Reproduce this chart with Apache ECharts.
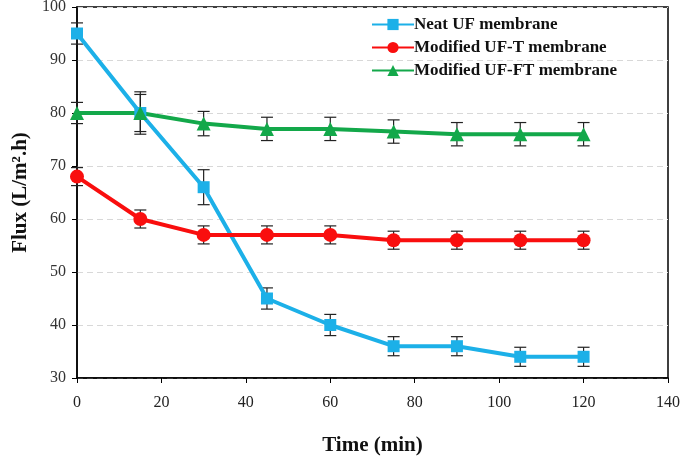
<!DOCTYPE html>
<html><head><meta charset="utf-8">
<script src="https://cdn.jsdelivr.net/npm/echarts@6/dist/echarts.min.js"></script>
<style>html,body{margin:0;padding:0;background:#fff}#c{width:685px;height:460px}</style>
</head><body><div id="c"></div>
<script>
const times = [0, 15, 30, 45, 60, 75, 90, 105, 120];
const neatUF = [95, 80, 66, 45, 40, 36, 36, 34, 34];
const neatErr = [2, 4, 3.3, 2, 2, 1.8, 1.8, 1.8, 1.8];
const modT = [68, 60, 57, 57, 57, 56, 56, 56, 56];
const modTErr = [1.7, 1.7, 1.7, 1.7, 1.7, 1.7, 1.7, 1.7, 1.7];
const modFT = [80, 80, 78, 77, 77, 76.5, 76, 76, 76];
const modFTErr = [2, 3.5, 2.3, 2.2, 2.2, 2.2, 2.2, 2.2, 2.2];
const names = ['Neat UF membrane', 'Modified UF-T membrane', 'Modified UF-FT membrane'];
const colors = ['#1CB0E8', '#F90E0E', '#13A84A'];

const chart = echarts.init(document.getElementById('c'));
const font = '"Liberation Serif", "Times New Roman", serif';

function errSeries(vals, errs) {
  return {
    type: 'custom',
    silent: true,
    z: 1,
    data: times.map((t, i) => [t, vals[i] - errs[i], vals[i] + errs[i]]),
    renderItem: function (params, api) {
      const lo = api.coord([api.value(0), api.value(1)]);
      const hi = api.coord([api.value(0), api.value(2)]);
      const w = 6;
      const st = { stroke: '#222', lineWidth: 1.2 };
      return {
        type: 'group',
        children: [
          { type: 'line', shape: { x1: lo[0], y1: lo[1], x2: hi[0], y2: hi[1] }, style: st },
          { type: 'line', shape: { x1: lo[0] - w, y1: lo[1], x2: lo[0] + w, y2: lo[1] }, style: st },
          { type: 'line', shape: { x1: hi[0] - w, y1: hi[1], x2: hi[0] + w, y2: hi[1] }, style: st }
        ]
      };
    }
  };
}

function lineSeries(name, vals, color, symbol, size) {
  return {
    name: name, type: 'line', z: 2,
    data: times.map((t, i) => [t, vals[i]]),
    symbol: symbol, symbolSize: size,
    lineStyle: { color: color, width: 4 },
    itemStyle: { color: color },
    emphasis: { disabled: true }
  };
}

chart.setOption({
  animation: false,
  grid: { left: 77, right: 17, top: 7, bottom: 82, show: true, borderColor: '#000', borderWidth: 1.5,
          containLabel: false, outerBoundsMode: 'none' },
  legend: {
    orient: 'vertical', left: 366, top: 11, itemGap: 6, itemWidth: 42, itemHeight: 14,
    data: names,
    textStyle: { fontFamily: font, fontWeight: 'bold', fontSize: 17, color: '#111', padding: [0, 0, 0, -5] }
  },
  xAxis: {
    type: 'value', min: 0, max: 140, interval: 20,
    axisLine: { show: true, lineStyle: { color: '#000', width: 1.5 } },
    axisTick: { show: true, length: 5, lineStyle: { color: '#000' } },
    splitLine: { show: false },
    axisLabel: { fontFamily: font, fontSize: 16, color: '#222', margin: 17 },
    name: 'Time (min)', nameLocation: 'middle', nameGap: 57,
    nameTextStyle: { fontFamily: font, fontWeight: 'bold', fontSize: 21, color: '#111' }
  },
  yAxis: {
    type: 'value', min: 30, max: 100, interval: 10,
    axisLine: { show: true, lineStyle: { color: '#000', width: 1.5 } },
    axisTick: { show: true, length: 5, lineStyle: { color: '#000' } },
    splitLine: { show: true, lineStyle: { color: '#d8d8d8', type: [6, 4], width: 1 } },
    axisLabel: { fontFamily: font, fontSize: 16, color: '#333', margin: 11 },
    name: 'Flux (L/m\u00B2.h)', nameLocation: 'middle', nameGap: 46,
    nameTextStyle: { fontFamily: font, fontWeight: 'bold', fontSize: 21, color: '#111' }
  },
  series: [
    errSeries(neatUF, neatErr),
    errSeries(modT, modTErr),
    errSeries(modFT, modFTErr),
    lineSeries(names[0], neatUF, colors[0], 'rect', 12),
    lineSeries(names[1], modT, colors[1], 'circle', 14),
    lineSeries(names[2], modFT, colors[2], 'triangle', 14)
  ]
});
</script></body></html>
